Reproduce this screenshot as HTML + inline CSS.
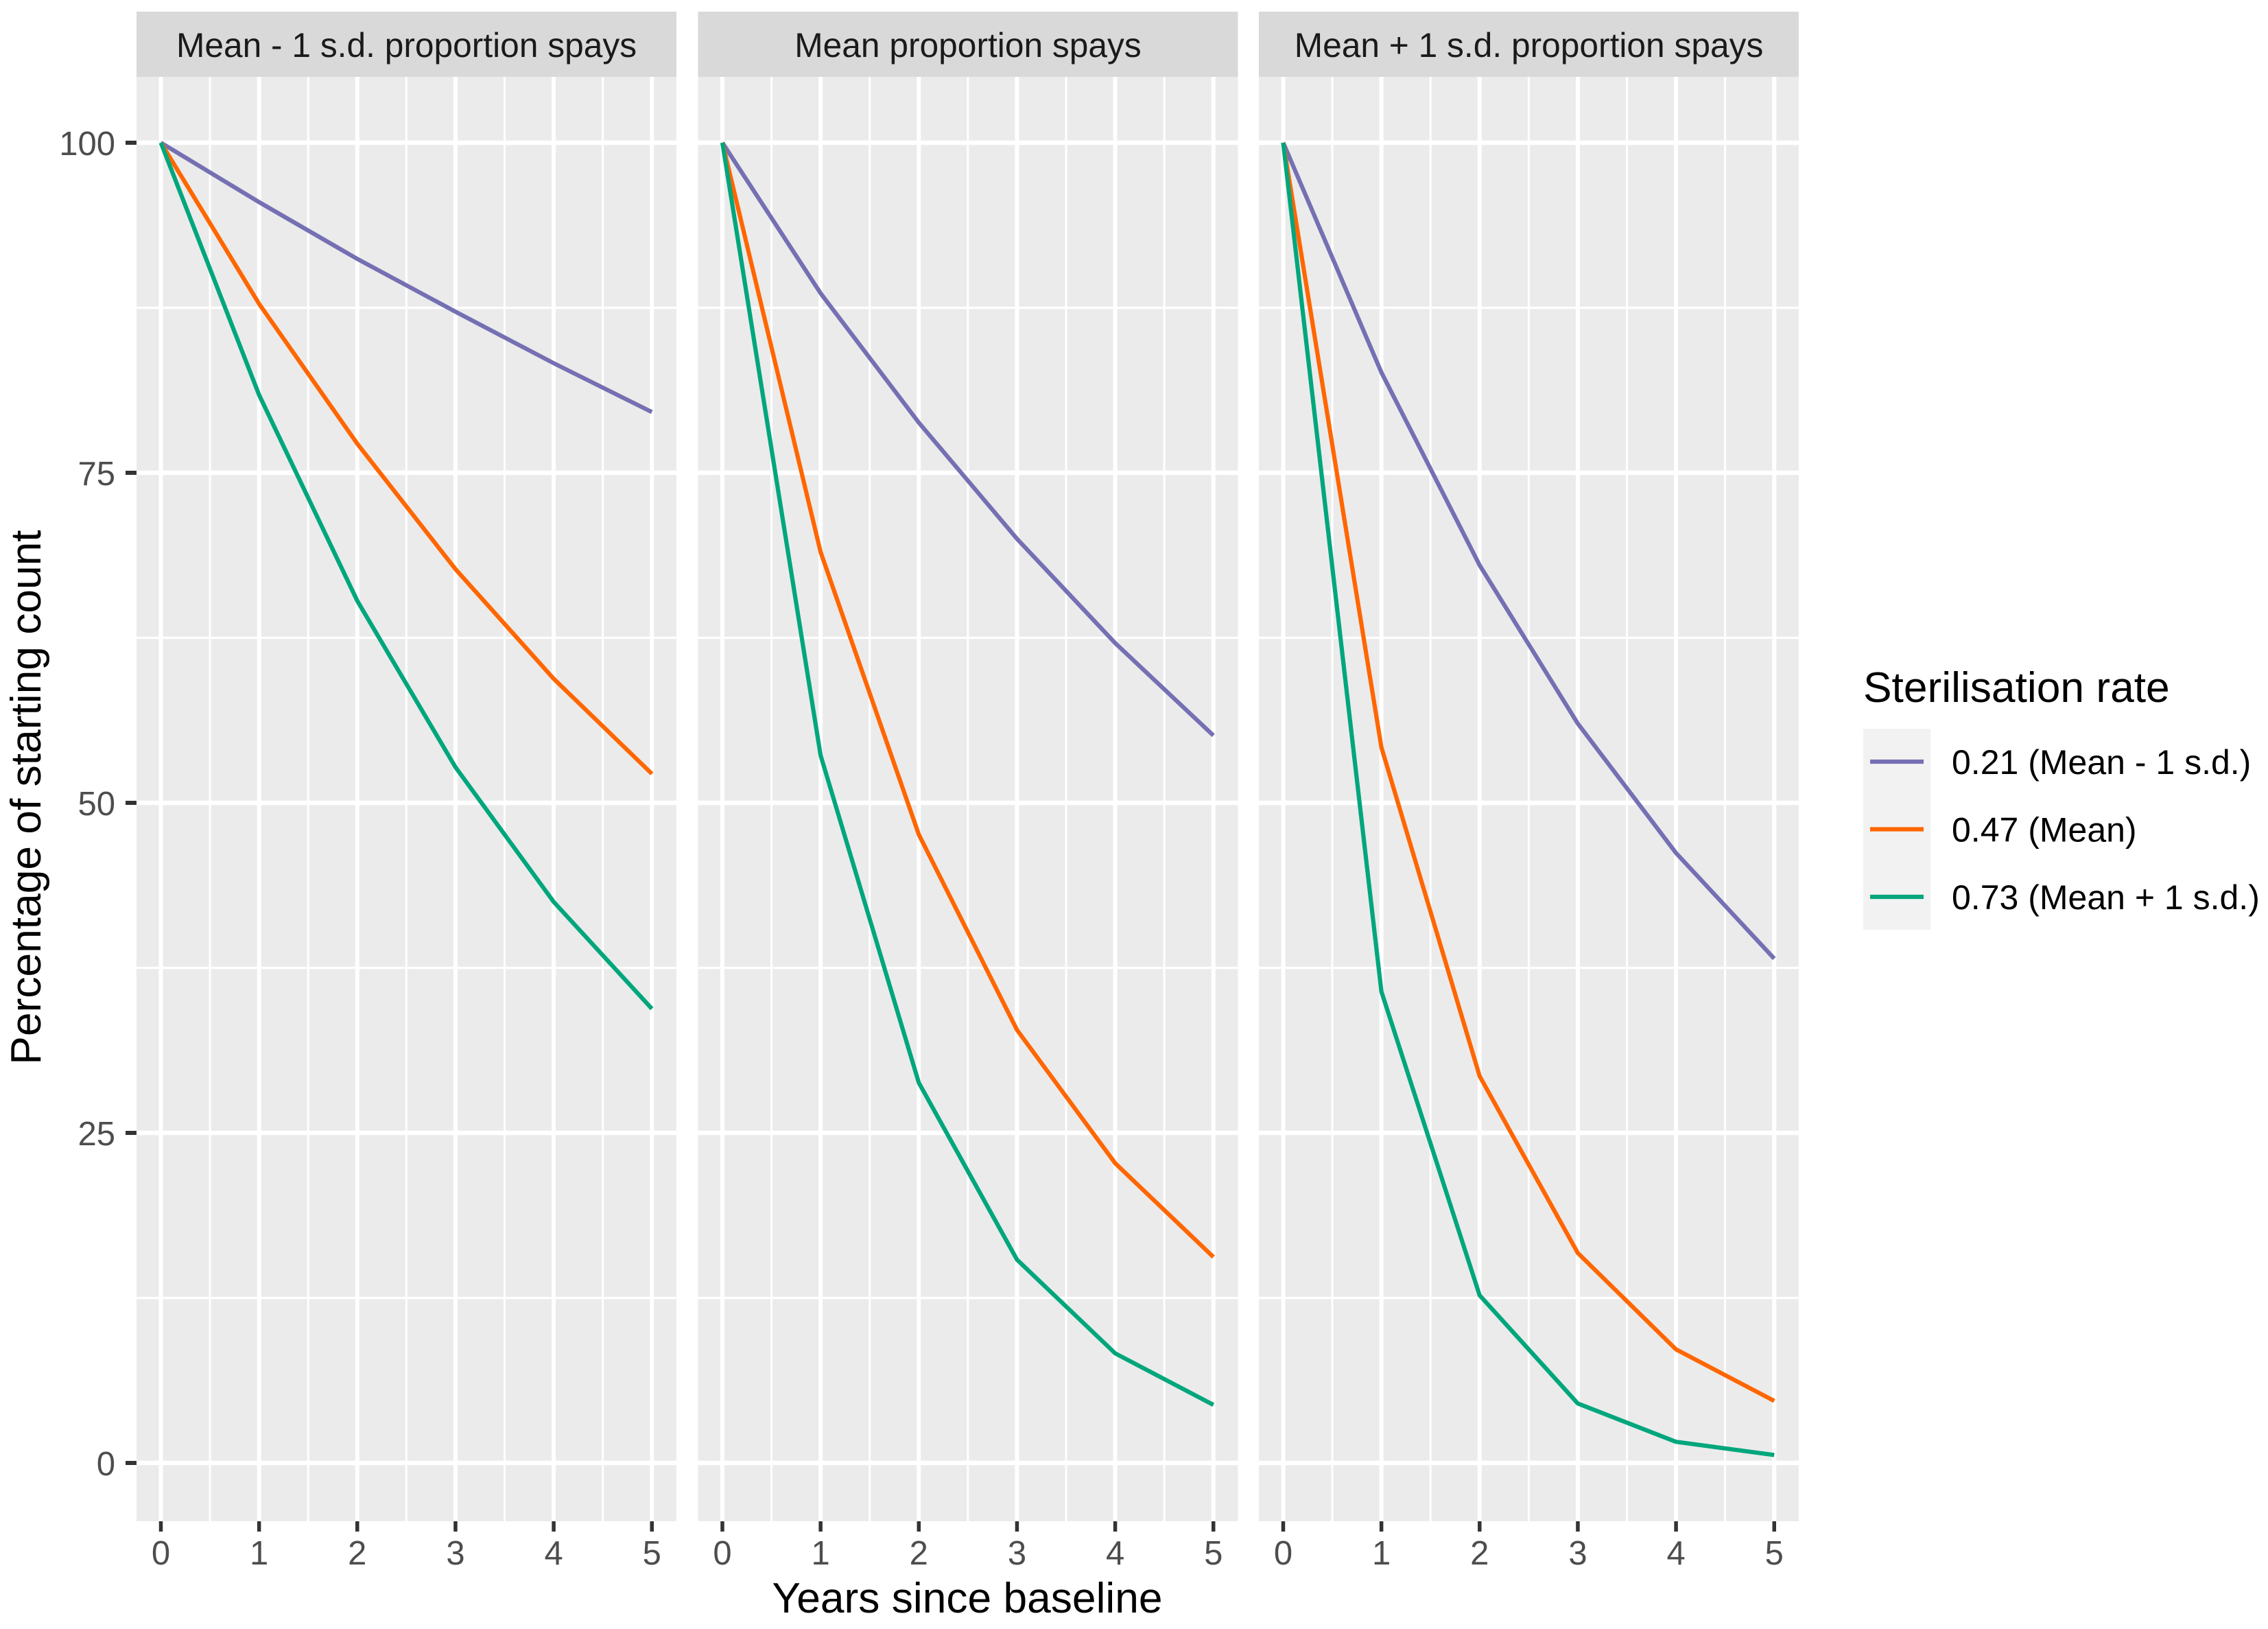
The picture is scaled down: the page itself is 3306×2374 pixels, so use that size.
<!DOCTYPE html>
<html lang="en">
<head>
<meta charset="utf-8">
<title>Percentage of starting count by sterilisation rate</title>
<style>
  html, body { margin: 0; padding: 0; background: #ffffff; }
  svg { display: block; font-family: "Liberation Sans", Arial, sans-serif; }
</style>
</head>
<body>
<svg id="chart" xmlns="http://www.w3.org/2000/svg" width="3306" height="2374" viewBox="0 0 3306 2374">
  <rect x="0" y="0" width="3306" height="2374" fill="#ffffff"/>
  <g id="panels"></g>
  <text x="1410" y="2350" font-size="62.3" text-anchor="middle" fill="#000000">Years since baseline</text>
  <text transform="translate(59,1162) rotate(-90)" font-size="62.3" text-anchor="middle" fill="#000000">Percentage of starting count</text>
  <g id="legend">
    <text x="2716" y="1023" font-size="62.3" fill="#000000">Sterilisation rate</text>
    <rect x="2716" y="1062" width="98" height="293" fill="#f2f2f2"/>
  </g>
</svg>
<script>
// Chart data
const years = [0, 1, 2, 3, 4, 5];
const yTicks = [0, 25, 50, 75, 100];
const yMinorTicks = [12.5, 37.5, 62.5, 87.5];
const xMinorTicks = [0.5, 1.5, 2.5, 3.5, 4.5];
const panelTitles = ['Mean - 1 s.d. proportion spays', 'Mean proportion spays', 'Mean + 1 s.d. proportion spays'];
const seriesLabels = ['0.21 (Mean - 1 s.d.)', '0.47 (Mean)', '0.73 (Mean + 1 s.d.)'];
const panel1Low = [100, 95.5, 91.2, 87.2, 83.3, 79.6];
const panel1Mid = [100, 87.8, 77.2, 67.7, 59.4, 52.2];
const panel1High = [100, 80.9, 65.3, 52.7, 42.5, 34.4];
const panel2Low = [100, 88.6, 78.8, 70.0, 62.1, 55.1];
const panel2Mid = [100, 69.0, 47.6, 32.8, 22.7, 15.6];
const panel2High = [100, 53.6, 28.8, 15.4, 8.3, 4.4];
const panel3Low = [100, 82.6, 68.0, 56.0, 46.2, 38.2];
const panel3Mid = [100, 54.2, 29.3, 15.9, 8.6, 4.7];
const panel3High = [100, 35.7, 12.7, 4.5, 1.6, 0.6];

// Layout and styling
const seriesColors = ['#7570b3', '#ff6600', '#00a67c'];
const seriesKeys = ['low', 'mean', 'high'];
const panelValues = [
  [panel1Low, panel1Mid, panel1High],
  [panel2Low, panel2Mid, panel2High],
  [panel3Low, panel3Mid, panel3High]
];
const panelLefts = [199, 1017.5, 1835];
const panelWidth = 787;
const stripTop = 17, stripBottom = 112, panelBottom = 2217;
const xStartOffset = 35.5, xUnit = 143.15;
const yZero = 2132, yUnit = 19.24;
const NS = 'http://www.w3.org/2000/svg';

function yScale(v) { return yZero - v * yUnit; }
function xScale(panelIndex, v) { return panelLefts[panelIndex] + xStartOffset + v * xUnit; }
function svgEl(tag, attrs, parent, text) {
  const el = document.createElementNS(NS, tag);
  for (const k in attrs) el.setAttribute(k, attrs[k]);
  if (text !== undefined) el.textContent = text;
  parent.appendChild(el);
  return el;
}

const panelsRoot = document.getElementById('panels');
panelTitles.forEach(function (title, p) {
  const left = panelLefts[p], right = left + panelWidth;
  const g = svgEl('g', {}, panelsRoot);
  
  

  const bg = svgEl('rect', { x: left, y: stripBottom, width: panelWidth, height: panelBottom - stripBottom, fill: '#ebebeb' }, g);
  
  

  const strip = svgEl('rect', { x: left, y: stripTop, width: panelWidth, height: stripBottom - stripTop, fill: '#d9d9d9' }, g);
  
  

  const stripText = svgEl('text', { x: left + panelWidth / 2, y: 83, 'font-size': 49.7, 'text-anchor': 'middle', fill: '#1a1a1a' }, g, title);
  
  

  yMinorTicks.forEach(function (t) {
    const line = svgEl('line', { x1: left, x2: right, y1: yScale(t), y2: yScale(t), stroke: '#ffffff', 'stroke-width': 3.2 }, g);
    
    
  });
  xMinorTicks.forEach(function (t) {
    const line = svgEl('line', { x1: xScale(p, t), x2: xScale(p, t), y1: stripBottom, y2: panelBottom, stroke: '#ffffff', 'stroke-width': 3 }, g);
    
    
  });
  yTicks.forEach(function (t) {
    const line = svgEl('line', { x1: left, x2: right, y1: yScale(t), y2: yScale(t), stroke: '#ffffff', 'stroke-width': 6.5 }, g);
    
    
  });
  years.forEach(function (t) {
    const line = svgEl('line', { x1: xScale(p, t), x2: xScale(p, t), y1: stripBottom, y2: panelBottom, stroke: '#ffffff', 'stroke-width': 6 }, g);
    
    

    const tick = svgEl('line', { x1: xScale(p, t), x2: xScale(p, t), y1: panelBottom, y2: panelBottom + 15, stroke: '#333333', 'stroke-width': 5.5 }, g);
    
    

    const label = svgEl('text', { x: xScale(p, t), y: 2280, 'font-size': 49, 'text-anchor': 'middle', fill: '#4d4d4d' }, g, String(t));
    
    
  });

  if (p === 0) {
    yTicks.forEach(function (t) {
      const tick = svgEl('line', { x1: left - 16, x2: left, y1: yScale(t), y2: yScale(t), stroke: '#333333', 'stroke-width': 6 }, g);
      
      

      const label = svgEl('text', { x: 168, y: yScale(t) + 18, 'font-size': 49, 'text-anchor': 'end', fill: '#4d4d4d' }, g, String(t));
      
      
    });
  }

  panelValues[p].forEach(function (values, s) {
    const d = values.map(function (v, i) {
      return (i ? 'L' : 'M') + xScale(p, years[i]).toFixed(2) + ' ' + yScale(v).toFixed(2);
    }).join(' ');
    const path = svgEl('path', { d: d, fill: 'none', stroke: seriesColors[s], 'stroke-width': 6.2, 'stroke-linejoin': 'round', 'stroke-linecap': 'butt' }, g);
    
    
  });
});

const legendRoot = document.getElementById('legend');
seriesLabels.forEach(function (label, s) {
  const keyY = 1110 + s * 98.5;
  const key = svgEl('line', { x1: 2726, x2: 2804, y1: keyY, y2: keyY, stroke: seriesColors[s], 'stroke-width': 6.2 }, legendRoot);
  
  

  const text = svgEl('text', { x: 2845, y: keyY + 18, 'font-size': 50, fill: '#000000' }, legendRoot, label);
  
  
});
</script>
</body>
</html>
